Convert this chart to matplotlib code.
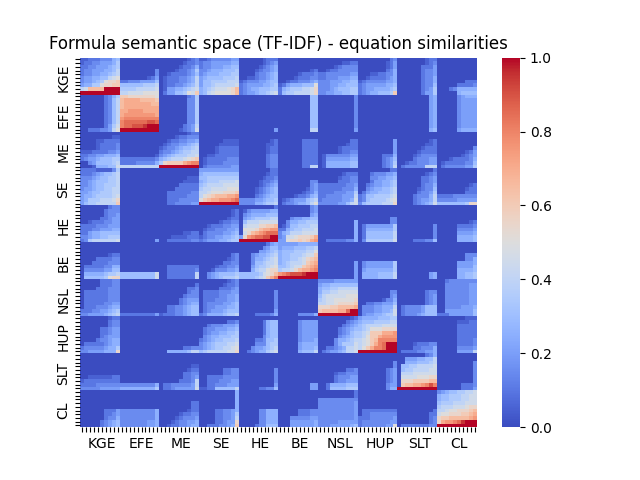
import numpy as np
import matplotlib
matplotlib.use("Agg")
import matplotlib.pyplot as plt

groups = ["KGE", "EFE", "ME", "SE", "HE", "BE", "NSL", "HUP", "SLT", "CL"]

# similarity, one char per cell, in steps of 0.05 (0-9 then a-k)
levels = "0123456789abcdefghijk"

kge_rows = [
    "1122233356 0000000000 0000000123 1123333344 0000001222 0000000000 0000000000 0000000023 0000000122 0000000000",
    "1223344457 0000000000 0000001223 2334444455 0000001234 0000000000 0000001122 0000000124 0000000123 0000000000",
    "2233444567 0000000000 0000012235 2334445566 0000012345 0000000000 0000123333 0000000124 0000002224 0000000000",
    "2334445568 0000000003 0000122347 3345556667 0000123345 0000000012 0012233333 0000000235 0000002334 0000000000",
    "2334455678 0000000003 0012222346 3455566677 0000233456 0000012223 2233333344 0001122335 0000002334 0000000000",
    "344556689a 0000000124 0122233458 4566667778 0011233456 0000122233 2233344455 0012222345 0000002335 0000000000",
    "344567abbc 2233344446 0122233458 4667777888 1233344566 0012233345 3334445566 1233333445 0000002335 0000000222",
    "45577abbcc 6666667778 0122334568 4667888889 2344445567 124555666a 3334455666 2344444556 0000002336 0000022223",
    "89ddddkkkk 7777888889 0144556789 5678999abd 2345566677 256777889b 3334566677 2344555567 0000002347 0002355555",
    "kkkkkkkkkk 889999aaaa 0244667a9c 5689aaaabd 2344566789 267788889b 3344556677 234556667c 0000002447 0000056666",
]
efe_rows = [
    "0000002357 ccbbbbbbba 0000000237 0000000000 0000000000 0000000066 0000000003 0000000000 0000000045 0000034555",
    "0000002368 deeeeddddc 0000000337 0000000000 0000000000 0000000066 0000000003 0000000000 0000000045 0000034444",
    "0000002368 deeeeeeedd 0000000337 0000000000 0000000000 0000000066 0000000003 0000000000 0000000045 0000034444",
    "0000002368 deeeeeeeee 0000000337 0000000000 0000000000 0000000066 0000000003 0000000000 0000000045 0000034444",
    "0000002368 eeffffeeee 0000000337 0000000000 0000000000 0000000066 0000000003 0000000000 0000000045 0000034444",
    "0000002368 effffffffe 0000000337 0000000000 0000000000 0000000066 0000000003 0000000000 0000000045 0000034444",
    "0000002368 fggggggggg 0000000337 0000000000 0000000000 0000000066 0000000003 0000000000 0000000045 0000034444",
    "0000002368 ghhhhhhiih 0000000337 0000000000 0000000000 0000000066 0000000003 0000000000 0000000045 0000034444",
    "0000002479 ghhiiijkkk 0000002348 0000000000 0000000000 0000000066 0000000003 0000000000 0000000045 0000034444",
    "002223348a kkkkkkkkkk 0000012349 0000000000 0000000004 0000000088 0000000004 0000000000 0000000056 0000045555",
]
me_rows = [
    "0000000000 0000000000 0000000122 0000000000 0000000000 0000000000 0000000000 0000000000 0000000000 0000000000",
    "0000000011 0000000000 0000122333 0000000000 0000000000 0000000000 0000000000 0000000000 0000000000 0000000000",
    "0000112222 0000000000 0012233445 0000001111 0000000012 0000002222 0000000022 0000000004 0000000012 0000000000",
    "0000122223 0000000000 0123344567 0000011111 0000000112 0000002222 0000000122 0000000004 0000000112 0000000000",
    "0000122223 0000000000 1233456678 0000122222 0000000122 0000002222 0000012222 0000000004 0000001222 0000000003",
    "1112222334 0000000000 2334567788 0000122222 0000000122 0000002222 0000012233 0000000004 0000012222 0000000124",
    "2233445556 0000000001 3456777889 0011222222 0000000233 0000002222 0133333344 0000002225 0000123333 0000001234",
    "2344566677 2222222223 5678889abc 0122222333 0000000233 0000002222 0144444455 0000002346 0000233344 0001222235",
    "0034666678 2222333335 7bccccefgg 0122223333 0000000233 0000002222 0155555566 0000002347 0012233344 0122222336",
    "0001555669 8888888888 kkkkkkkkkk 0233333344 0000000233 0000002288 0155555566 0000002348 0233333888 0233333447",
]
se_rows = [
    "2222111137 0000000000 0000000000 4444444444 0000000022 0000000000 0000000000 0000000022 0000000002 0000000000",
    "2223456678 0000000000 0000000000 5666666666 0000000122 0000000000 0000001222 0002333445 0000000123 0000000000",
    "3334566778 0000000000 0000000111 6677777777 0000001223 0000000000 0000012233 0003344556 0000002234 0000000000",
    "3345666778 0000000000 0000001111 5677788889 0000012234 0000000033 0000022233 0002445567 0000002234 0000000000",
    "3345667778 0000000000 0000022222 6788889999 0000012345 0000000034 2222222334 0023445567 0000002335 0000000012",
    "3445667788 0000000000 0000222222 7889999aaa 0000123456 0000000134 2222223335 0034556678 0000012336 0000000122",
    "4456677788 0000000000 0022222233 889aaabbbc 0000123456 0000001235 2222333447 0245566678 0000023347 0000000222",
    "4556777789 0000000000 0022222333 8abcdddeef 0000234566 0000122356 2233334448 2366777789 0000233358 2222333333",
    "457778889b 0000000000 0022233333 acdeefffgh 3333445667 0123444678 2333334459 236777789a 0000234458 3333344444",
    "467788888c 0000000000 0022333344 kkkkkkkkkk 3333556778 023345568a 3333344689 367777888b 0000234569 66666667bb",
]
he_rows = [
    "0000000233 0000000000 0000000000 0000000000 0000000002 0000000034 0000000000 0000000000 0000000000 0000000000",
    "0000002333 0000000000 0000000000 0000000012 0134444455 0000000034 0000000000 0000000000 0000000000 0000000000",
    "0000002334 0000000000 0000000000 0000000012 0345555666 0000000045 0000000000 0000000000 0000000000 0000000000",
    "0000022344 0000000000 0000000000 0000000122 0456777788 0003445566 0000000000 0000000033 0000000000 0000000000",
    "0012223344 0000000000 0000000000 0000012233 0688899999 0035566777 0000000005 0000000033 0000000000 0000000012",
    "2222333444 0000000000 0000000000 0012223344 08999bbccd 0136677788 0000000005 0244444447 0000000003 0000022223",
    "2223344455 0000000000 0000000000 0122333445 0aaabdeeff 2256778889 0000000005 0255555557 0000000003 0000033334",
    "2245566666 0000000000 0000001122 0233334456 09bdefghhh 3568889999 0000000005 0266666668 0000000003 0000044445",
    "3345566777 0000000000 0001111222 1233445567 4bfghhiikk 3499abbbce 0000000005 0266666668 0000000003 0000055556",
    "2378888889 0000000004 0022222233 2344455677 kkkkkkkkkk 44abbcbcef 0022222335 0377777779 0000222336 0000055556",
]
be_rows = [
    "0000000000 0000000000 0000000000 0000000000 0000000245 4444455555 0000000000 0000000000 0000000000 0000000000",
    "0000000000 0000000000 0000000000 0000000000 0000003466 4555666778 0000000000 0000000000 0000000000 0000000000",
    "0000000000 0000000000 0000000000 0000000000 0000044567 566677788a 0000000000 0000000000 0000000000 0000000000",
    "0000000122 0000000000 0000000000 0000000023 0003455678 566777899c 0000000000 0000000000 0000000000 0000000333",
    "0000222233 0000000000 0000000000 0000000123 0003556789 5667789bcd 0000000000 0000000000 0000000000 0000000335",
    "0002222333 0000000000 0000000000 0000002233 0003667889 5678889cde 0000000004 0344444447 0000000000 0000044445",
    "0222223355 0000000000 0022222222 0000122334 000467789a 667899cdef 0000000004 0344444447 0000000000 0000044446",
    "0333334466 0000000000 0022222223 0001333445 0005788abb 7889bdeefg 0000000004 0455555557 0000000000 0000055556",
    "0555556778 6666666669 0022222228 0034566667 6666679abd fghiiijkkk 0000000004 0555566668 0000000045 0000055667",
    "0666667abb 6666666669 0022222228 0034567778 6666789ceg kkkkkkkkkk 0000000004 0555566668 0000000045 0000055667",
]
nsl_rows = [
    "0000022233 0000000000 0000000000 0000000123 0000000000 0000000000 3333444444 0000000000 0000000000 0023333333",
    "0000022233 0000000000 0000000002 0000001223 0000000000 0000000000 4556666666 0000000000 0000000000 0033333344",
    "0000222333 0000000000 0000000223 0000022234 0000000000 0000000000 5667788888 0000000000 0000000000 0033333344",
    "0222222333 0000000000 0000000233 0222233344 0000000003 0000000000 5778899999 0000000033 0000000233 0033333344",
    "0222222333 0000000000 0000002333 0222233445 0000000003 0000000000 6899999aaa 0000000034 0000000234 0033333344",
    "0222222333 0000000000 0000023444 0222333445 0000000003 0000000000 7899aaaaab 0000001335 0000000234 0033333344",
    "0222223344 0000000000 0000023455 0233334456 0000000003 0000000000 8899abbbbc 0022334446 0000000234 0033333344",
    "0222333455 0000000000 0022334566 0233444556 0000000003 0000000000 bbbccdddde 0333445558 0233334666 0033334445",
    "2223344567 0000000000 0022334566 0234445666 0000000004 0000000000 cddddeehkk 0333445569 0233334666 0044444446",
    "3344445678 2222222224 1222334566 2355556778 0000222235 0000033335 kkkkkkkkkk 0344556779 0233345666 2224444446",
]
hup_rows = [
    "0000000122 0000000000 0000000000 0000000000 0000000000 0000000000 0000000012 4555566677 0000000000 0000000111",
    "0000000233 0000000000 0000000000 0000000223 0000002566 0000034444 0000000234 5666777788 0000000000 0000011122",
    "0000000233 0000000000 0000000000 0023334445 0000002566 0000034444 0000002345 6788889999 0000000000 0000022222",
    "0000022344 0000000000 0000000000 0233444556 0000002566 0000034444 0000023456 678aaabbbb 0000000000 0000022222",
    "0000022344 0000000000 0000000000 0234455667 0000002566 0000034444 0000023467 789ccceeef 0000000000 0000022222",
    "0000023444 0000000000 0000000000 0345566677 0000003566 0000034444 0000034567 78acceffff 0000000000 0000022222",
    "0000233455 0000000000 0000000000 2345667778 0000223667 0000034445 0000355678 89acdggggg 0000000000 0000022223",
    "0222223455 0000000000 0000000000 3456777889 0000333677 0000045555 0000357779 89aceghkkk 0000122233 0000022223",
    "2333334557 0000000000 0000002233 345677889a 0003445678 0000045556 0022345889 8acegghkkk 0000223335 0000033334",
    "334444555b 0000000000 0055555688 678888899b 0023455789 0000056668 0234456889 kkkkkkkkkk 0222233445 0000044448",
]
slt_rows = [
    "0000000000 0000000000 0000000000 0000000000 0000000000 0000000000 0000000000 0000000000 0000000235 0000000000",
    "0000000000 0000000000 0000000000 0000000000 0000000000 0000000000 0000000000 0000000000 0044455668 0000000000",
    "0000000000 0000000000 0000000000 0000000000 0000000000 0000000000 0000000000 0000000003 0055566678 0000000003",
    "0000000000 0000000000 0000000011 0000000000 0000000000 0000000000 0000000000 0000000003 0667788889 0000000003",
    "0000000000 0000000000 0000000122 0000002233 0000000003 0000000000 0000000223 0000000234 0677888899 0000000003",
    "0000000000 0000000000 0000002233 0000002233 0000000003 0000000000 0000122333 0000000234 0888999999 0000000003",
    "0011111122 0000000000 0000002234 0022223333 0000000003 0000000000 0000233344 0000000234 09999aaabb 0000000003",
    "1222222222 0000000000 0000022238 0022233344 0000000003 0000000000 0000233444 0000000234 0bbbccccdd 0000000003",
    "2222333333 3333333335 0223333348 0022333444 0000000004 0000000044 0025555666 0000000344 0cddeefgig 0000002223",
    "3333344444 5555555557 0223444449 1122666668 0000022336 0000000044 0026666777 0000000355 kkkkkkkkkk 0000002224",
]
cl_rows = [
    "0000000000 0000000000 0000000000 0000000005 0000000000 0000000000 0000000002 0000000000 0000000000 3456677889",
    "0000000000 0000000000 0000000000 0000000005 0000000000 0000000000 0000000002 0000000000 0000000000 5667778899",
    "0000000000 0000000000 0000000000 0000000005 0000000000 0000000000 3333333333 0000000000 0000000000 5667778899",
    "0000000000 0000000000 0000000022 0000000005 0000000000 0000000000 3333333334 0000000000 0000000000 6777888999",
    "0000000000 0000000000 0000000022 0000000005 0000000000 0000000000 3333333334 0000000000 0000000000 7888999abb",
    "0000002224 3333333335 0000000122 0000223345 0000033555 0000022233 3333333334 0222222222 0000000002 889aabbbcd",
    "0000002234 3333333335 0000012233 0000223347 0000033555 0000022233 3333333334 0223333333 0000000022 9aabbbccde",
    "0000002335 3333333335 0000123334 0000223348 0000033555 0003333344 3333333334 2223333334 0000000023 bccdddddef",
    "0000023456 3333333445 0001233445 000022344b 0000033555 0004444445 3333344444 2333333344 0000000023 beffghjkkk",
    "0000023456 3333333445 0012233455 002223345c 0000233666 0004444445 3334444456 233333344a 0222222233 kkkkkkkkkk",
]

all_rows = (kge_rows + efe_rows + me_rows + se_rows + he_rows
            + be_rows + nsl_rows + hup_rows + slt_rows + cl_rows)
sim = np.array([[levels.index(c) / 20 for c in row.replace(" ", "")] for row in all_rows])

n = sim.shape[0]
tick_labels = [groups[i // 10] if i % 10 == 5 else "" for i in range(n)]

fig, ax = plt.subplots(figsize=(6.4, 4.8))
mesh = ax.pcolormesh(sim, cmap="coolwarm", vmin=0, vmax=1)
ax.invert_yaxis()
ax.set_xticks(np.arange(n) + 0.5)
ax.set_xticklabels(tick_labels, rotation=0)
ax.set_yticks(np.arange(n) + 0.5)
ax.set_yticklabels(tick_labels, rotation=90, va="center")
ax.set_title("Formula semantic space (TF-IDF) - equation similarities")
for side in ax.spines.values():
    side.set_visible(False)

cbar = fig.colorbar(mesh, ax=ax)
cbar.outline.set_linewidth(0)

fig.savefig("out.png", dpi=100)
